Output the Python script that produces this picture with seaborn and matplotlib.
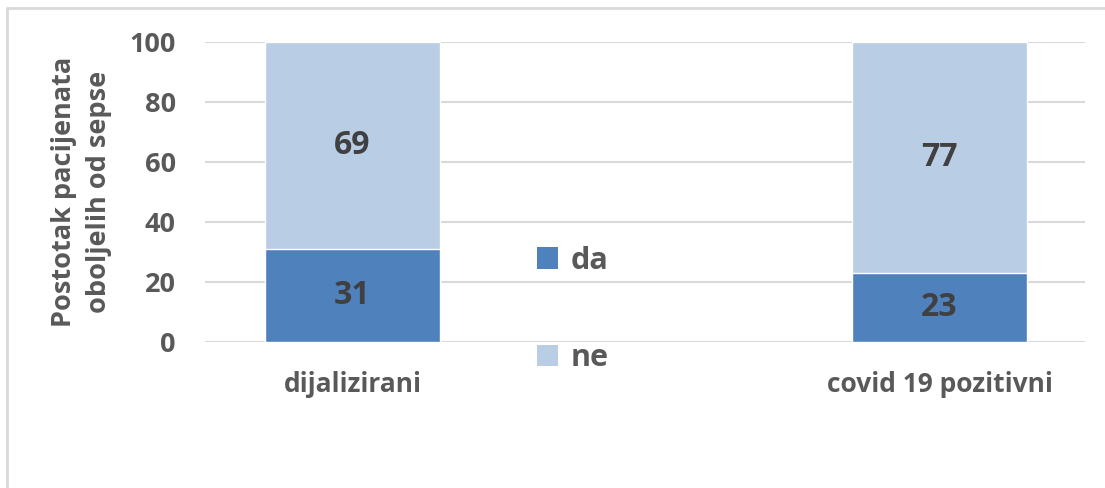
import matplotlib
matplotlib.use("Agg")
import matplotlib.pyplot as plt
import seaborn as sns
import pandas as pd
from matplotlib.patches import Patch
from matplotlib.lines import Line2D

# data (percent)
categories = ['dijalizirani', 'covid 19 pozitivni']
da_values = [31, 23]
ne_values = [69, 77]
series_names = ['da', 'ne']
y_ticks = [0, 20, 40, 60, 80, 100]

col_da = '#4F81BD'
col_ne = '#B9CDE5'
text_col = '#595959'
label_col = '#404040'
grid_col = '#D9D9D9'

sns.set_theme(style='white')
plt.rcParams['font.family'] = ['Open Sans', 'DejaVu Sans']
plt.rcParams['font.weight'] = 'bold'

df = pd.DataFrame({'kategorija': categories, 'da': da_values, 'ne': ne_values})
df['ukupno'] = df['da'] + df['ne']

fig = plt.figure(figsize=(11.05, 4.88), dpi=100)
ax = fig.add_axes([205 / 1105, 146 / 488, 880 / 1105, 300 / 488])

# stacked bars: total in light colour, "da" drawn over it
sns.barplot(data=df, x='kategorija', y='ukupno', color=col_ne, width=0.298,
            saturation=1, ax=ax, zorder=2)
sns.barplot(data=df, x='kategorija', y='da', color=col_da, width=0.298,
            saturation=1, ax=ax, zorder=3)

for i, row in df.iterrows():
    ax.text(i, row['da'] / 2, f"{row['da']}", ha='center', va='center',
            fontsize=23, fontweight='bold', color=label_col, zorder=4)
    ax.text(i, row['da'] + row['ne'] / 2, f"{row['ne']}", ha='center', va='center',
            fontsize=23, fontweight='bold', color=label_col, zorder=4)

ax.set_xlim(-0.2513, 1.2479)
ax.set_ylim(0, 100)
ax.set_yticks(y_ticks)
for t in y_ticks:
    ax.axhline(t, color=grid_col, lw=1.5, zorder=1)

for s in ax.spines.values():
    s.set_visible(False)
ax.tick_params(axis='both', length=0, colors=text_col, labelsize=19.5)
ax.tick_params(axis='y', pad=21)
ax.tick_params(axis='x', pad=21, labelsize=19)
for lab in ax.get_xticklabels() + ax.get_yticklabels():
    lab.set_fontweight('bold')

ax.set_xlabel('')
ax.set_ylabel('Postotak pacijenata\noboljelih od sepse', fontsize=19.5,
              fontweight='bold', color=text_col, linespacing=1.45)
ax.yaxis.set_label_coords(-0.106, 0.5)

handles = [Patch(facecolor=col_da, edgecolor='none'),
           Patch(facecolor=col_ne, edgecolor='none')]
leg = fig.legend(handles, series_names, loc='center', bbox_to_anchor=(0.518, 0.366),
                 frameon=False, fontsize=22, handlelength=0.7, handleheight=0.7,
                 handletextpad=0.4, labelspacing=2.2)
for t in leg.get_texts():
    t.set_color(text_col)
    t.set_fontweight('bold')

# outer chart border (left and top visible)
fig.add_artist(Line2D([7 / 1105, 7 / 1105], [0, 1 - 8 / 488], color=grid_col, lw=2,
                      transform=fig.transFigure))
fig.add_artist(Line2D([7 / 1105, 1], [1 - 8 / 488, 1 - 8 / 488], color=grid_col, lw=2,
                      transform=fig.transFigure))

fig.savefig('out.png', dpi=100)
